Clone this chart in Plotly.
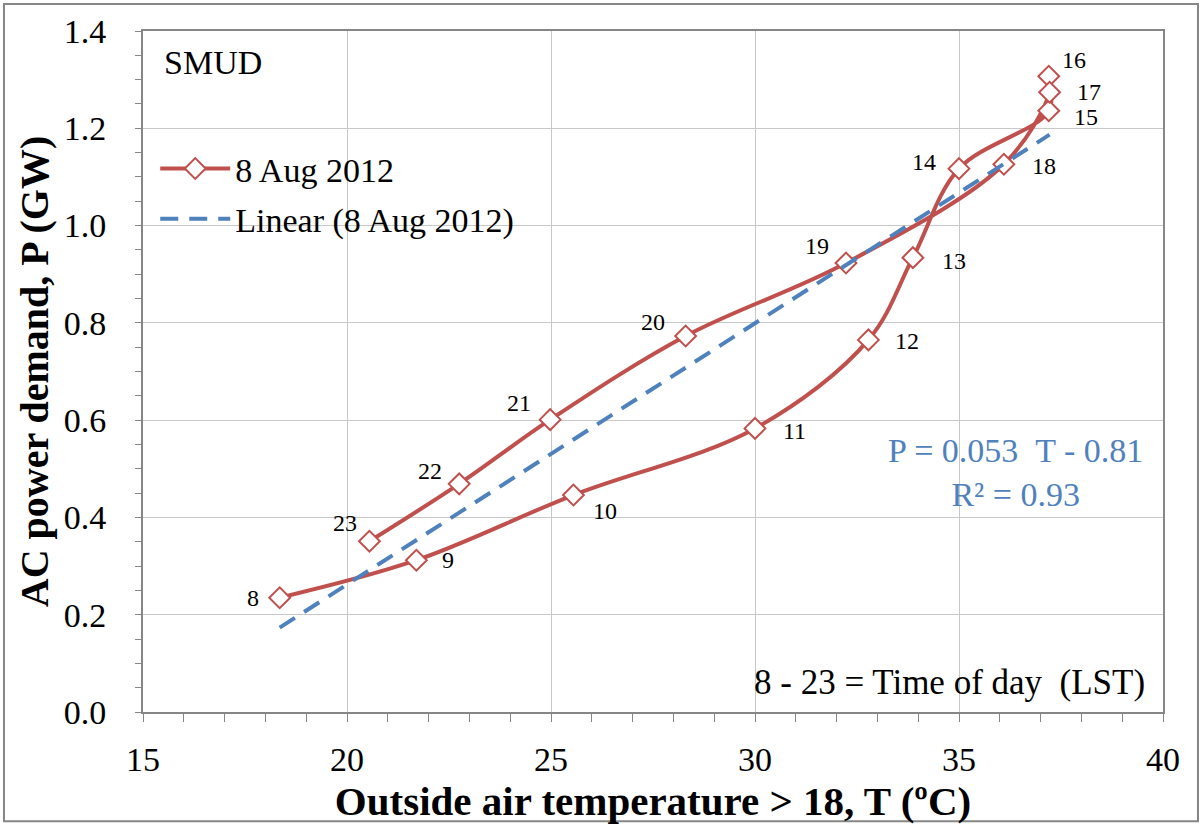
import numpy as np
import plotly.graph_objects as go

# Data (SMUD, 8 Aug 2012)
hours = [8, 9, 10, 11, 12, 13, 14, 15, 16, 17, 18, 19, 20, 21, 22, 23]
temp_T = [18.35, 21.7, 25.55, 30.0, 32.78, 33.87, 35.0, 37.2, 37.2, 37.22,
          36.1, 32.23, 28.3, 24.98, 22.75, 20.55]
power_P = [0.235, 0.312, 0.446, 0.583, 0.765, 0.934, 1.117, 1.236, 1.307, 1.274,
           1.126, 0.923, 0.773, 0.601, 0.469, 0.351]

# label offsets (pixels) for the hour annotations
label_dx = [-27, 32, 32, 39, 39, 41, -35, 37, 25, 39, 40, -29, -33, -31, -29, -24]
label_dy = [0, 0, -16, -3, -1, -3, 7, -6, 16, 0, -2, 17, 14, 17, 13, 18]

RED = "#C0504D"
BLUE = "#4F81BD"
FONT = "Liberation Serif, Times New Roman, Times, serif"

# linear trendline
slope, intercept = np.polyfit(temp_T, power_P, 1)
tx = np.array([min(temp_T), max(temp_T)])
ty = slope * tx + intercept

fig = go.Figure()
fig.add_trace(go.Scatter(
    x=temp_T, y=power_P, mode="lines+markers", name="8 Aug 2012",
    legendgroup="a",
    line=dict(color=RED, width=4, shape="spline", smoothing=1.0),
    marker=dict(symbol="diamond", size=16, color="white",
                line=dict(color=RED, width=2)),
))
fig.add_trace(go.Scatter(
    x=tx, y=ty, mode="lines", name="Linear (8 Aug 2012)",
    legendgroup="b",
    line=dict(color=BLUE, width=4, dash="18px,11px"),
))

for h, t, p, dx, dy in zip(hours, temp_T, power_P, label_dx, label_dy):
    fig.add_annotation(x=t, y=p, text=str(h), showarrow=False,
                       xshift=dx, yshift=dy,
                       font=dict(family=FONT, size=24, color="black"))

fig.add_annotation(xref="paper", yref="paper", x=0.019, y=0.954,
                   xanchor="left", yanchor="middle", text="SMUD",
                   showarrow=False, font=dict(family=FONT, size=34, color="black"))
fig.add_annotation(xref="paper", yref="paper", x=0.984, y=0.043,
                   xanchor="right", yanchor="middle",
                   text="8 - 23 = Time of day&nbsp;&nbsp;(LST)",
                   showarrow=False, font=dict(family=FONT, size=35, color="black"))
fig.add_annotation(xref="paper", yref="paper", x=0.855, y=0.352,
                   xanchor="center", yanchor="middle",
                   text="P = 0.053&nbsp;&nbsp;T - 0.81<br>R² = 0.93",
                   showarrow=False, align="center",
                   font=dict(family=FONT, size=34, color=BLUE))

# outer border around the whole chart
fig.add_shape(type="rect", xref="paper", yref="paper",
              x0=-0.1363, x1=1.0343, y0=-0.1605, y1=1.0396,
              line=dict(color="#868686", width=2), layer="below")

axis_common = dict(
    showline=True, linecolor="#868686", linewidth=2, mirror=True,
    showgrid=True, gridcolor="#C8C8C8", gridwidth=1,
    ticks="outside", tickcolor="#868686", zeroline=False,
    tickfont=dict(family=FONT, size=34, color="black"),
)

fig.update_xaxes(
    range=[15, 40], dtick=5, tick0=15, ticklen=8, ticklabelstandoff=8,
    minor=dict(dtick=1, ticks="outside", ticklen=8, tickcolor="#868686", showgrid=False),
    title=dict(text="<b>Outside air temperature &gt; 18, T (ºC)</b>",
               font=dict(family=FONT, size=41, color="black"), standoff=8),
    **axis_common,
)
fig.update_yaxes(
    range=[0, 1.4], dtick=0.2, tick0=0, ticklen=6, tickformat=".1f",
    ticklabelstandoff=22,
    minor=dict(dtick=0.05, ticks="outside", ticklen=6, tickcolor="#868686", showgrid=False),
    title=dict(text="<b>AC power demand, P (GW)</b>",
               font=dict(family=FONT, size=40, color="black"), standoff=3),
    **axis_common,
)

fig.update_layout(
    width=1203, height=825,
    margin=dict(l=143, r=40, t=31, b=113),
    paper_bgcolor="white", plot_bgcolor="white",
    font=dict(family=FONT),
    showlegend=True,
    legend=dict(x=0.012, y=0.84, xanchor="left", yanchor="top",
                bgcolor="rgba(0,0,0,0)", itemwidth=70, tracegroupgap=3,
                font=dict(family=FONT, size=34, color="black")),
)

fig.write_html("out.html")
